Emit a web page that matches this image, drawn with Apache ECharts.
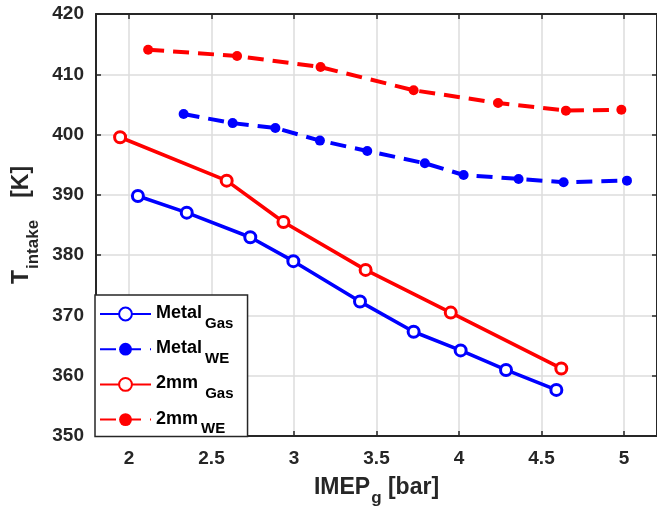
<!DOCTYPE html>
<html>
<head>
<meta charset="utf-8">
<script src="https://cdn.jsdelivr.net/npm/echarts@6/dist/echarts.min.js"></script>
<style>
html,body{margin:0;padding:0;background:#fff;}
#c{width:657px;height:516px;}
</style>
</head>
<body>
<div id="c"></div>
<script>
// ---- data ----
const xTicks = [2, 2.5, 3, 3.5, 4, 4.5, 5];
const yTicks = [350, 360, 370, 380, 390, 400, 410, 420];

const xMetalGas = [2.054, 2.35, 2.735, 2.996, 3.40, 3.725, 4.01, 4.285, 4.59];
const yMetalGas = [389.8, 387.05, 382.97, 379.0, 372.3, 367.3, 364.2, 360.96, 357.65];

const xMetalWE = [2.331, 2.628, 2.887, 3.157, 3.444, 3.793, 4.028, 4.361, 4.634, 5.018];
const yMetalWE = [403.4, 401.9, 401.1, 399.0, 397.28, 395.24, 393.3, 392.64, 392.1, 392.36];

const x2mmGas = [1.946, 2.592, 2.936, 3.434, 3.95, 4.62];
const y2mmGas = [399.55, 392.36, 385.5, 377.55, 370.47, 361.2];

const x2mmWE = [2.116, 2.655, 3.161, 3.725, 4.237, 4.648, 4.984];
const y2mmWE = [414.08, 413.03, 411.2, 407.35, 405.24, 403.97, 404.13];

const seriesNames = ['MetalGas', 'MetalWE', '2mmGas', '2mmWE'];
const legendMain = {MetalGas: 'Metal', MetalWE: 'Metal', '2mmGas': '2mm', '2mmWE': '2mm'};
const legendSub = {MetalGas: 'Gas', MetalWE: 'WE', '2mmGas': ' Gas', '2mmWE': 'WE'};

const pairs = (xs, ys) => xs.map((x, i) => [x, ys[i]]);

const FONT = "'Liberation Sans', Arial, sans-serif";
const AX = '#262626';

const chart = echarts.init(document.getElementById('c'), null, {renderer: 'canvas'});

function solidSeries(name, xs, ys, color) {
  return {
    name, type: 'line', data: pairs(xs, ys), xAxisIndex: 0, yAxisIndex: 0,
    symbol: 'circle', symbolSize: 11,
    lineStyle: {color, width: 3.6},
    itemStyle: {color: '#fff', borderColor: color, borderWidth: 3},
    emphasis: {disabled: true}, animation: false, z: 3
  };
}
function dashSeries(name, xs, ys, color) {
  return {
    name, type: 'line', data: pairs(xs, ys), xAxisIndex: 0, yAxisIndex: 0,
    symbol: 'circle', symbolSize: 10,
    lineStyle: {color, width: 4, type: [16, 9]},
    itemStyle: {color: color, borderColor: color, borderWidth: 0},
    emphasis: {disabled: true}, animation: false, z: 3
  };
}

const gridLine = {show: true, lineStyle: {color: '#dcdcdc', width: 1.5}};
const nameRich = {
  t: {fontSize: 23, fontWeight: 'bold', color: AX, lineHeight: 30, verticalAlign: 'top', fontFamily: FONT},
  s: {fontSize: 17, fontWeight: 'bold', color: AX, lineHeight: 22, verticalAlign: 'top', padding: [14, 0, 0, 1], fontFamily: FONT},
  k: {fontSize: 23, fontWeight: 'bold', color: AX, lineHeight: 30, verticalAlign: 'top', padding: [0, 0, 0, 22], fontFamily: FONT}
};

chart.setOption({
  animation: false,
  backgroundColor: '#fff',
  textStyle: {fontFamily: FONT},
  grid: {left: 96, top: 14, width: 564.4, height: 422, containLabel: false},
  xAxis: [{
    type: 'value', min: 1.8, max: 5.2, position: 'bottom',
    axisLine: {show: true, onZero: false, lineStyle: {color: AX, width: 2}},
    axisTick: {show: true, inside: true, length: 5, customValues: xTicks, lineStyle: {color: AX, width: 1.5}},
    axisLabel: {show: true, customValues: xTicks, margin: 13, color: AX, fontSize: 19, fontWeight: 'bold', fontFamily: FONT,
      formatter: v => String(v)},
    splitLine: Object.assign({customValues: xTicks}, gridLine),
    name: '{t|IMEP}{s|g}{t| [bar]}',
    nameLocation: 'middle', nameGap: 40,
    nameTextStyle: {fontFamily: FONT, rich: nameRich}
  }, {
    type: 'value', min: 1.8, max: 5.2, position: 'top',
    axisLine: {show: true, onZero: false, lineStyle: {color: AX, width: 2}},
    axisTick: {show: true, inside: true, length: 5, customValues: xTicks, lineStyle: {color: AX, width: 1.5}},
    axisLabel: {show: false, customValues: xTicks},
    splitLine: {show: false}
  }],
  yAxis: [{
    type: 'value', min: 350, max: 420, interval: 10, position: 'left',
    axisLine: {show: true, onZero: false, lineStyle: {color: AX, width: 2}},
    axisTick: {show: true, inside: true, length: 5, lineStyle: {color: AX, width: 1.5}},
    axisLabel: {show: true, margin: 12, color: AX, fontSize: 19, fontWeight: 'bold', fontFamily: FONT},
    splitLine: gridLine,
    name: '{t|T}{s|intake}{k|[K]}',
    nameLocation: 'middle', nameGap: 54,
    nameTextStyle: {fontFamily: FONT, rich: nameRich}
  }, {
    type: 'value', min: 350, max: 420, interval: 10, position: 'right',
    axisLine: {show: true, onZero: false, lineStyle: {color: AX, width: 2}},
    axisTick: {show: true, inside: true, length: 5, lineStyle: {color: AX, width: 1.5}},
    axisLabel: {show: false},
    splitLine: {show: false}
  }],
  legend: {
    show: true, orient: 'vertical', left: 95, top: 295,
    data: seriesNames,
    padding: [9, 14, 0, 4], itemGap: 8.2,
    itemWidth: 51, itemHeight: 16,
    backgroundColor: '#fff', borderColor: '#262626', borderWidth: 1.5, borderRadius: 0,
    selectedMode: false,
    formatter: name => '{a|' + legendMain[name] + '}{s|' + legendSub[name] + '}',
    textStyle: {
      fontFamily: FONT,
      rich: {
        a: {fontSize: 18, fontWeight: 'bold', color: '#000', lineHeight: 20, verticalAlign: 'top', fontFamily: FONT},
        s: {fontSize: 15, fontWeight: 'bold', color: '#000', lineHeight: 16, verticalAlign: 'top', padding: [12, 0, 0, 3], fontFamily: FONT}
      }
    }
  },
  series: [
    solidSeries('MetalGas', xMetalGas, yMetalGas, '#0000ff'),
    dashSeries('MetalWE', xMetalWE, yMetalWE, '#0000ff'),
    solidSeries('2mmGas', x2mmGas, y2mmGas, '#ff0000'),
    dashSeries('2mmWE', x2mmWE, y2mmWE, '#ff0000')
  ]
});
</script>
</body>
</html>
